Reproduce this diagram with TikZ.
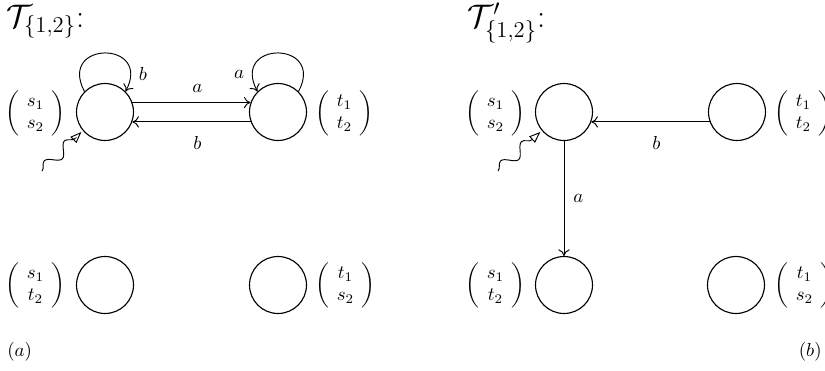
\documentclass[tikz,border=0pt]{standalone}
\usepackage{amsmath}
\usetikzlibrary{arrows.meta,decorations.pathmorphing}
\newcommand{\stv}[2]{\left(\rule[-10.5pt]{0pt}{26pt}\begin{array}{@{\hspace{4pt}}c@{\hspace{4pt}}} #1\\ #2\end{array}\right)}
\begin{document}
\begin{tikzpicture}[x=0.53pt,y=0.53pt,
  state/.style={draw,circle,minimum size=30.2pt,inner sep=0pt,line width=0.6pt},
  vec/.style={inner sep=0pt},
  edge/.style={-{To[length=3.5pt,width=6pt]},line width=0.5pt},
  initarrow/.style={line width=0.5pt,decorate,
    decoration={snake,segment length=15pt,amplitude=3pt,post length=6pt},
    -{Triangle[open,length=6pt,width=4.5pt]},shorten >=1pt},
  lbl/.style={inner sep=0pt}]
\useasboundingbox (0,0) rectangle (825,370);

% ---------- panel (a)
\node[anchor=base west,inner sep=0pt] (ta) at (6,343) {\LARGE $\mathcal{T}_{\{1,2\}}$:};
\node[state] (q1) at (105,258) {};
\node[state] (q2) at (278,258) {};
\node[state] (q3) at (105,85) {};
\node[state] (q4) at (278,85) {};
\node[vec,anchor=east] (m1) at (66,257) {$\stv{s_1}{s_2}$};
\node[vec,anchor=west] (m2) at (315,257) {$\stv{t_1}{t_2}$};
\node[vec,anchor=east] (m3) at (66,85) {$\stv{s_1}{t_2}$};
\node[vec,anchor=west] (m4) at (315,85) {$\stv{t_1}{s_2}$};

\draw[edge] (q1.19) -- node[pos=0.55,above=2pt] {$a$} (q2.161);
\draw[edge] (q2.200) -- node[pos=0.45,below=4pt] {$b$} (q1.340);
\draw[edge] (q1.135) .. controls +(118:58) and +(62:58) .. (q1.45);
\draw[edge] (q2.45) .. controls +(62:58) and +(118:58) .. (q2.135);
\path (q1) ++(38,38) node[lbl] (lb1) {$b$};
\path (q2) ++(-39,38) node[lbl] (la2) {$a$};
\coordinate (i1) at (42,199);
\draw[initarrow] (i1) -- (q1.220);
\node[anchor=west,inner sep=0pt] (capa) at (7,18) {$(a)$};

% ---------- panel (b)
\node[anchor=base west,inner sep=0pt] (tb) at (467,343) {\LARGE $\mathcal{T}'_{\{1,2\}}$:};
\node[state] (p1) at (564,258) {};
\node[state] (p2) at (737,258) {};
\node[state] (p3) at (564,85) {};
\node[state] (p4) at (736,85) {};
\node[vec,anchor=east] (n1) at (526,257) {$\stv{s_1}{s_2}$};
\node[vec,anchor=west] (n2) at (774,257) {$\stv{t_1}{t_2}$};
\node[vec,anchor=east] (n3) at (526,85) {$\stv{s_1}{t_2}$};
\node[vec,anchor=west] (n4) at (774,85) {$\stv{t_1}{s_2}$};

\draw[edge] (p2.200) -- node[pos=0.45,below=4pt] {$b$} (p1.340);
\draw[edge] (p1.south) -- node[right=1.4pt] {$a$} (p3.north);
\coordinate (i2) at (498,199);
\draw[initarrow] (i2) -- (p1.220);
\node[anchor=east,inner sep=0pt] (capb) at (822,18) {$(b)$};
\end{tikzpicture}
\end{document}
